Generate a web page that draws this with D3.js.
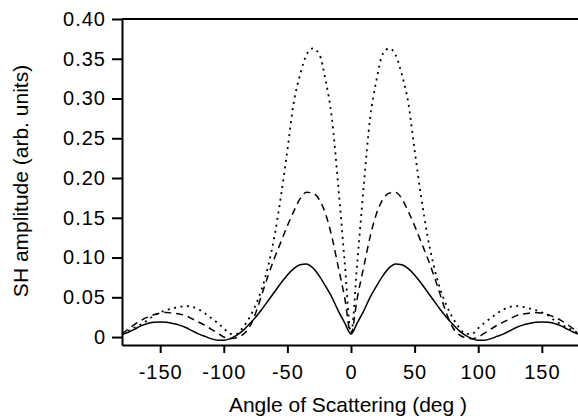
<!DOCTYPE html>
<html>
<head>
<meta charset="utf-8">
<script src="https://cdn.jsdelivr.net/npm/d3@7"></script>
<style>
  body { margin: 0; background: #fff; }
  text { font-family: "Liberation Sans", Arial, sans-serif; fill: #000; }
</style>
</head>
<body>
<div id="chart"></div>
<script>
var svgWidth = 578;
var svgHeight = 420;

// scattering angle (deg)
var angles = [-180, -175, -170, -165, -160, -155, -150, -145, -140, -135, -130, -125,
  -120, -115, -110, -105, -100, -95, -90, -85, -80, -75, -70, -65,
  -60, -55, -50, -45, -40, -35, -30, -25, -20, -15, -10, -5,
  0, 5, 10, 15, 20, 25, 30, 35, 40, 45, 50, 55,
  60, 65, 70, 75, 80, 85, 90, 95, 100, 105, 110, 115,
  120, 125, 130, 135, 140, 145, 150, 155, 160, 165, 170, 175, 180];

// SH amplitude, solid curve
var solidValues = [0.003, 0.006, 0.010, 0.014, 0.017, 0.0185, 0.019, 0.0185, 0.017, 0.015, 0.012, 0.008,
  0.004, 0.001, -0.002, -0.004, -0.004, -0.002, 0.002, 0.008, 0.016, 0.025, 0.035, 0.046,
  0.057, 0.068, 0.078, 0.086, 0.091, 0.092, 0.087, 0.077, 0.064, 0.050, 0.033, 0.018,
  0.004, 0.018, 0.033, 0.050, 0.064, 0.077, 0.087, 0.092, 0.091, 0.086, 0.078, 0.068,
  0.057, 0.046, 0.035, 0.025, 0.016, 0.008, 0.002, -0.002, -0.004, -0.004, -0.002, 0.001,
  0.004, 0.008, 0.012, 0.015, 0.017, 0.0185, 0.019, 0.0185, 0.017, 0.014, 0.010, 0.006, 0.003];

// SH amplitude, dashed curve
var dashedValues = [0.004, 0.010, 0.016, 0.021, 0.025, 0.028, 0.030, 0.031, 0.030, 0.029, 0.027, 0.023,
  0.019, 0.015, 0.010, 0.005, 0.000, -0.002, -0.001, 0.003, 0.012, 0.030, 0.054, 0.078,
  0.100, 0.120, 0.140, 0.158, 0.174, 0.182, 0.181, 0.173, 0.155, 0.126, 0.088, 0.050,
  0.004, 0.050, 0.088, 0.126, 0.155, 0.173, 0.181, 0.182, 0.174, 0.158, 0.140, 0.120,
  0.100, 0.078, 0.054, 0.030, 0.012, 0.003, -0.001, -0.002, 0.000, 0.005, 0.010, 0.015,
  0.019, 0.023, 0.027, 0.029, 0.030, 0.031, 0.030, 0.028, 0.025, 0.021, 0.016, 0.010, 0.004];

// SH amplitude, dotted curve
var dottedValues = [0.004, 0.008, 0.012, 0.016, 0.021, 0.027, 0.031, 0.034, 0.036, 0.038, 0.039, 0.038,
  0.035, 0.030, 0.024, 0.018, 0.011, 0.004, 0.004, 0.012, 0.024, 0.040, 0.061, 0.090,
  0.128, 0.178, 0.235, 0.295, 0.330, 0.355, 0.363, 0.356, 0.323, 0.275, 0.190, 0.095,
  0.005, 0.095, 0.190, 0.275, 0.323, 0.356, 0.363, 0.355, 0.330, 0.295, 0.235, 0.178,
  0.128, 0.090, 0.061, 0.040, 0.024, 0.012, 0.004, 0.004, 0.011, 0.018, 0.024, 0.030,
  0.035, 0.038, 0.039, 0.038, 0.036, 0.034, 0.031, 0.027, 0.021, 0.016, 0.012, 0.008, 0.004];

var xTicks = [-150, -100, -50, 0, 50, 100, 150];
var yTicks = [0, 0.05, 0.10, 0.15, 0.20, 0.25, 0.30, 0.35, 0.40];

var series = [
  { name: "solid", values: solidValues, dash: null },
  { name: "dashed", values: dashedValues, dash: "7,5" },
  { name: "dotted", values: dottedValues, dash: "2,4.5" }
];

var svg = d3.select("#chart")
  .append("svg")
  .attr("width", svgWidth)
  .attr("height", svgHeight);

var xScale = d3.scaleLinear().domain([-180, 180]).range([122, 580]);
var yScale = d3.scaleLinear().domain([-0.01, 0.40]).range([345, 19]);

var line = d3.line()
  .x(function(d) { return xScale(d[0]); })
  .y(function(d) { return yScale(d[1]); })
  .curve(d3.curveMonotoneX);

series.forEach(function(s) {
  var pts = angles.map(function(a, i) { return [a, s.values[i]]; });
  svg.append("path")
    .datum(pts)
    .attr("fill", "none")
    .attr("stroke", "#000")
    .attr("stroke-width", s.name === "dotted" ? 1.8 : 1.5)
    .attr("stroke-dasharray", s.dash)
    .attr("d", line);
});

// top frame line
svg.append("line")
  .attr("x1", xScale(-180))
  .attr("x2", xScale(180))
  .attr("y1", yScale(0.40))
  .attr("y2", yScale(0.40))
  .attr("stroke", "#000")
  .attr("stroke-width", 2);

// plain hyphen for negatives, like the original
var bottomAxis = d3.axisBottom(xScale)
  .tickValues(xTicks)
  .tickSize(8)
  .tickSizeOuter(0)
  .tickPadding(12)
  .tickFormat(function(d) { return String(d); });

var leftAxis = d3.axisLeft(yScale)
  .tickValues(yTicks)
  .tickSize(10)
  .tickSizeOuter(0)
  .tickPadding(6)
  .tickFormat(function(d) { return d === 0 ? "0" : d3.format(".2f")(d); });

var xAxis = svg.append("g")
  .attr("transform", "translate(0," + yScale.range()[0] + ")")
  .call(bottomAxis);

var yAxis = svg.append("g")
  .attr("transform", "translate(" + xScale.range()[0] + ",0)")
  .call(leftAxis);

[xAxis, yAxis].forEach(function(ax) {
  ax.select(".domain").attr("stroke-width", 2);
  ax.selectAll(".tick line").attr("stroke-width", 2);
  ax.selectAll(".tick text")
    .attr("font-family", null)
    .attr("font-size", null)
    .style("font-size", "20px")
    .style("letter-spacing", "1px");
});

svg.append("text")
  .attr("x", 348)
  .attr("y", 412)
  .attr("text-anchor", "middle")
  .style("font-size", "21px")
  .text("Angle of Scattering (deg )");

svg.append("text")
  .attr("transform", "translate(28,181) rotate(-90)")
  .attr("text-anchor", "middle")
  .style("font-size", "21px")
  .text("SH amplitude (arb. units)");
</script>
</body>
</html>
